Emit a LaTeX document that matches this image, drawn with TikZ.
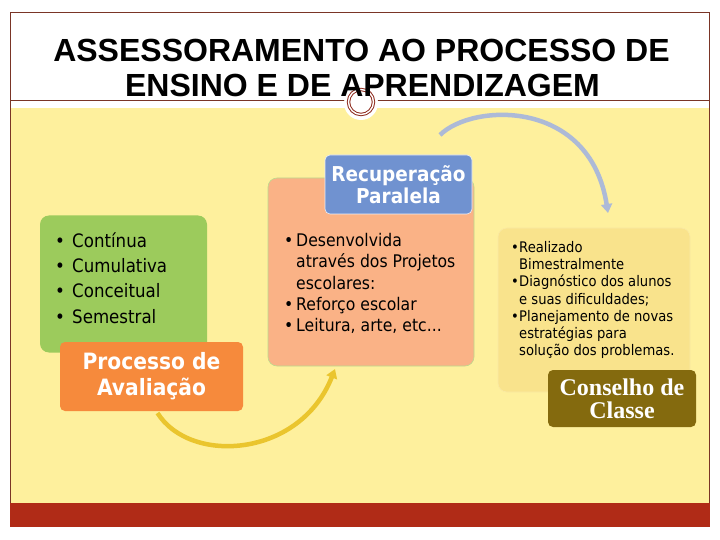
\documentclass[tikz,border=0pt]{standalone}
\usepackage{fontspec}
\setmainfont{Liberation Sans}
\newfontfamily\tahoma[FakeStretch=0.9]{DejaVu Sans}
\newfontfamily\timesfont{Liberation Serif}
\usetikzlibrary{arrows.meta}

\definecolor{fundo}{HTML}{FEF09D}
\definecolor{moldura}{HTML}{7A3526}
\definecolor{anel}{HTML}{8E2B1E}
\definecolor{faixa}{HTML}{B02B17}
\definecolor{verde}{HTML}{9CCB5C}
\definecolor{laranja}{HTML}{F68A3C}
\definecolor{azul}{HTML}{7092D0}
\definecolor{salmao}{HTML}{FAB286}
\definecolor{palha}{HTML}{F9E38C}
\definecolor{oliva}{HTML}{846A0E}
\definecolor{arcoamarelo}{HTML}{EAC52E}
\definecolor{arcoazul}{HTML}{ADBAD7}

\tikzset{
	caixa/.style={rounded corners=9pt,inner sep=0,outer sep=0},
	rotulo/.style={inner sep=0,align=center,text=white},
	lista/.style={anchor=west,inner sep=0,align=left},
	seta/.style={line width=4.5pt,-{Triangle[length=9pt,width=11pt]}},
}

\begin{document}
\begin{tikzpicture}[x=1pt,y=-1pt]
	\useasboundingbox (0,0) rectangle (720,540);
	% moldura do slide
	\fill[fundo] (11,108) rectangle (709,503);
	\fill[faixa] (10,503) rectangle (710,527);
	\draw[moldura,line width=0.8pt] (10,503) -- (10,12) -- (709,12) -- (709,503);
	\draw[moldura,line width=0.8pt] (10,100) -- (709,100);
	\fill[white] (361,103) circle (17);
	\draw[anel,line width=1pt,double=white,double distance=1.4pt] (361,102) circle (12.5);
	\node[anchor=base,inner sep=0,font=\bfseries\fontsize{32}{36}\selectfont] (titulo1) at (361.5,62) {ASSESSORAMENTO AO PROCESSO DE};
	\node[anchor=base,inner sep=0,font=\bfseries\fontsize{32}{36}\selectfont] (titulo2) at (362.5,97) {ENSINO E DE APRENDIZAGEM};
	% caixas
	\node[caixa,fill=verde,minimum width=167pt,minimum height=137pt] (avaliacao) at (123.5,284) {};
	\node[lista,font=\tahoma\fontsize{18.5}{25.3}\selectfont] (itens) at (55,278) {\makebox[17pt][l]{\textbullet}Contínua\\\makebox[17pt][l]{\textbullet}Cumulativa\\\makebox[17pt][l]{\textbullet}Conceitual\\\makebox[17pt][l]{\textbullet}Semestral};
	\node[caixa,fill=laranja,rounded corners=5pt,minimum width=183pt,minimum height=69pt] (processo) at (151.5,376.5) {};
	\node[rotulo,font=\tahoma\bfseries\fontsize{22.5}{26}\selectfont] (processotxt) at (processo) {Processo de\\Avaliação};
	\node[caixa,fill=salmao,draw=verde!70!white,line width=0.6pt,minimum width=206pt,minimum height=188pt] (recuperacao) at (371,272) {};
	\node[caixa,fill=azul,draw=white!85!azul,line width=0.6pt,rounded corners=5pt,minimum width=147pt,minimum height=59pt] (paralela) at (398.5,184.5) {};
	\node[rotulo,font=\tahoma\bfseries\fontsize{20.5}{22}\selectfont] (paralelatxt) at (paralela) {Recuperação\\Paralela};
	\node[lista,font=\tahoma\fontsize{17.4}{21.2}\selectfont] (projetos) at (284,283.5) {\makebox[12pt][l]{\textbullet}Desenvolvida\\\hspace*{12pt}através dos Projetos\\\hspace*{12pt}escolares:\\\makebox[12pt][l]{\textbullet}Reforço escolar\\\makebox[12pt][l]{\textbullet}Leitura, arte, etc...};
	\node[caixa,fill=palha,draw=palha!80!white,line width=0.6pt,minimum width=192pt,minimum height=164pt] (conselho) at (594,310) {};
	\node[lista,font=\tahoma\fontsize{14.6}{17.3}\selectfont] (conselhoitens) at (511,300) {\makebox[8pt][l]{\textbullet}Realizado\\\hspace*{8pt}Bimestralmente\\\makebox[8pt][l]{\textbullet}Diagnóstico dos alunos\\\hspace*{8pt}e suas dificuldades;\\\makebox[8pt][l]{\textbullet}Planejamento de novas\\\hspace*{8pt}estratégias para\\\hspace*{8pt}solução dos problemas.};
	\node[caixa,fill=oliva,rounded corners=5pt,minimum width=148pt,minimum height=57pt] (classe) at (622,398.5) {};
	\node[rotulo,font=\timesfont\bfseries\fontsize{24}{23}\selectfont] (classetxt) at (classe) {Conselho de\\Classe};
	% setas curvas
	\coordinate (inicioazul) at (440,135);
	\draw[seta,arcoamarelo] ([xshift=6pt,yshift=-2pt]processo.south) .. controls (190,465) and (300,458) .. ([xshift=-36pt,yshift=-3pt]recuperacao.south);
	\draw[seta,arcoazul] (inicioazul) .. controls (472,103) and (590,98) .. ([xshift=14pt,yshift=15pt]conselho.north);
\end{tikzpicture}
\end{document}
